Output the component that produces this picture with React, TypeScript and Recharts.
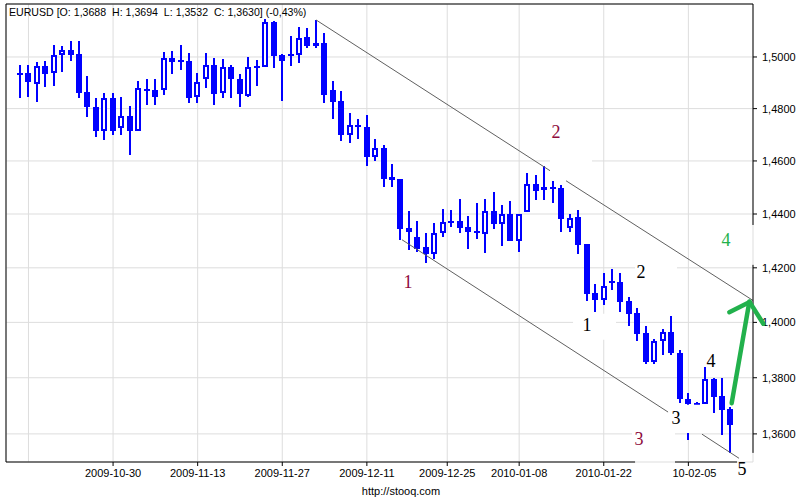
import React from 'react';
import {
  Bar,
  CartesianGrid,
  ComposedChart,
  ReferenceArea,
  ReferenceDot,
  ReferenceLine,
  XAxis,
  YAxis,
} from 'recharts';

// EURUSD daily candles, 2009-10-15 .. 2010-02-12 (one entry per trading day)
const opens = [
  1.4936, 1.4938, 1.4896, 1.4965, 1.4938, 1.5008, 1.5027, 1.5012, 1.4865, 1.4807,
  1.4715, 1.4841, 1.4726, 1.4772, 1.4715, 1.4876, 1.4872, 1.4872, 1.4996, 1.4988,
  1.4985, 1.4845, 1.4915, 1.4969, 1.4861, 1.4961, 1.4915, 1.4849, 1.4965, 1.4961,
  1.5137, 1.5008, 1.5012, 1.5008, 1.5078, 1.5047, 1.5055, 1.4872, 1.483, 1.4699,
  1.4738, 1.473, 1.4615, 1.465, 1.454, 1.4532, 1.4348, 1.4315, 1.4278, 1.4252,
  1.433, 1.4374, 1.4374, 1.4352, 1.4337, 1.4326, 1.4412, 1.4363, 1.44, 1.43,
  1.4408, 1.4513, 1.4494, 1.4502, 1.4498, 1.4348, 1.4389, 1.4289, 1.4108, 1.4083,
  1.4152, 1.4148, 1.4079, 1.4035, 1.3962, 1.3857, 1.3933, 1.3966, 1.389, 1.3725,
  1.371, 1.3707, 1.3796, 1.3735, 1.3688,
];
const highs = [
  1.4969, 1.4969, 1.4981, 1.4985, 1.5047, 1.5043, 1.5063, 1.5063, 1.4926, 1.4841,
  1.4861, 1.4861, 1.4845, 1.481, 1.4907, 1.4915, 1.4915, 1.502, 1.5024, 1.5047,
  1.5016, 1.4938, 1.5016, 1.4996, 1.4992, 1.4969, 1.4934, 1.5, 1.4988, 1.5149,
  1.5141, 1.5012, 1.5082, 1.5118, 1.5114, 1.5145, 1.5094, 1.4907, 1.4868, 1.4783,
  1.476, 1.4776, 1.4684, 1.4661, 1.4589, 1.4532, 1.4412, 1.4374, 1.433, 1.4367,
  1.4419, 1.4415, 1.4457, 1.4393, 1.4442, 1.4457, 1.4483, 1.4434, 1.4449, 1.44,
  1.4555, 1.4547, 1.4581, 1.4525, 1.451, 1.44, 1.4415, 1.4289, 1.4141, 1.4181,
  1.4196, 1.4181, 1.4094, 1.4053, 1.3987, 1.394, 1.3977, 1.4024, 1.3901, 1.3746,
  1.3714, 1.3839, 1.38, 1.38, 1.3694,
];
const lows = [
  1.4841, 1.4845, 1.4826, 1.4884, 1.4888, 1.4942, 1.4985, 1.4841, 1.4768, 1.4692,
  1.468, 1.4699, 1.4699, 1.4623, 1.4715, 1.4814, 1.4814, 1.4853, 1.4934, 1.495,
  1.4822, 1.4822, 1.488, 1.4814, 1.4841, 1.4841, 1.4807, 1.4845, 1.4888, 1.4961,
  1.4957, 1.483, 1.4965, 1.4977, 1.5035, 1.5035, 1.4822, 1.476, 1.4676, 1.4669,
  1.4684, 1.4581, 1.46, 1.4502, 1.4502, 1.4304, 1.4266, 1.4259, 1.4218, 1.4233,
  1.4315, 1.4352, 1.433, 1.427, 1.4307, 1.4255, 1.4345, 1.4281, 1.43, 1.4259,
  1.4408, 1.4453, 1.4453, 1.4442, 1.4333, 1.4333, 1.4252, 1.4079, 1.4039, 1.4064,
  1.4119, 1.4039, 1.3987, 1.3933, 1.385, 1.385, 1.3883, 1.3883, 1.371, 1.3579,
  1.3707, 1.3707, 1.3675, 1.3596, 1.3532,
];
const closes = [
  1.4932, 1.4903, 1.4965, 1.4934, 1.5008, 1.5027, 1.5008, 1.4861, 1.4807, 1.4715,
  1.4841, 1.4715, 1.4772, 1.4715, 1.488, 1.4868, 1.4845, 1.4996, 1.4981, 1.4981,
  1.4841, 1.4903, 1.4969, 1.4857, 1.4961, 1.4915, 1.4857, 1.4961, 1.4959, 1.5137,
  1.5004, 1.4985, 1.5004, 1.5074, 1.5043, 1.5055, 1.4853, 1.4826, 1.4699, 1.4738,
  1.473, 1.4615, 1.465, 1.4532, 1.4528, 1.4345, 1.4333, 1.427, 1.4252, 1.433,
  1.4371, 1.4367, 1.4348, 1.4333, 1.433, 1.4412, 1.4363, 1.44, 1.43, 1.44,
  1.4513, 1.4487, 1.4502, 1.4494, 1.4382, 1.4385, 1.4285, 1.4105, 1.4083, 1.4134,
  1.4145, 1.4075, 1.4031, 1.3958, 1.3857, 1.3933, 1.3966, 1.389, 1.3725, 1.3707,
  1.3707, 1.3796, 1.3732, 1.3686, 1.363,
];

// x ticks sit on candle indexes (12-25 is a holiday, so it falls between two candles)
const xTickIndex = [1, 11, 21, 31, 41, 50.5, 59, 69, 79];
const xTickLabels = ['', '2009-10-30', '2009-11-13', '2009-11-27', '2009-12-11', '2009-12-25', '2010-01-08', '2010-01-22', '2010-02-05'];
// leading characters of a label that were painted over in the original
const xTickPainted = [0, 0, 0, 0, 0, 0, 0, 0, 2];
const yTicks = [1.36, 1.38, 1.4, 1.42, 1.44, 1.46, 1.48, 1.5];

const X_MIN = -1.655;
const X_MAX = 86.64;
const Y_MIN = 1.3501;
const Y_MAX = 1.5208;

// hand drawn channel, as [index, price] pairs (broken where labels were pasted)
const channelSegments = [
  [[35, 1.5145], [62.65, 1.4563]],
  [[64.54, 1.4525], [86.64, 1.408]],
  [[45.15, 1.4304], [76.83, 1.3673]],
  [[80.61, 1.3599], [84.99, 1.3514]],
];
const arrowSegments = [
  [[84.12, 1.3709], [86.21, 1.4076]],
  [[83.84, 1.4037], [86.25, 1.4074]],
  [[86.25, 1.4074], [87.86, 1.3995]],
];
const frameSegments = [
  [[X_MIN, Y_MIN], [X_MIN, Y_MAX]],
  [[X_MIN, Y_MAX], [X_MAX, Y_MAX]],
  [[X_MAX, Y_MAX], [X_MAX, 1.4359]],
  [[X_MAX, 1.4211], [X_MAX, 1.3533]],
  [[X_MIN, Y_MIN], [72.7, Y_MIN]],
  [[77.42, Y_MIN], [84.75, Y_MIN]],
];
// white patches behind the pasted wave labels
const patches = [
  [62.65, 67.61, 1.4528, 1.4634],
  [72.7, 77.66, 1.4134, 1.4237],
  [65.37, 70.45, 1.3937, 1.4031],
  [76.6, 80.73, 1.3603, 1.3703],
  [72.34, 77.42, 1.3505, 1.3636],
];

const RED = '#8e0b3c';
const GREEN = '#22b14c';
const waveLabels = [
  { i: 45.86, p: 1.4148, text: '1', color: RED },
  { i: 63.36, p: 1.4711, text: '2', color: RED },
  { i: 73.17, p: 1.3582, text: '3', color: RED },
  { i: 67.02, p: 1.3991, text: '1', color: '#000' },
  { i: 73.4, p: 1.4185, text: '2', color: '#000' },
  { i: 77.54, p: 1.3657, text: '3', color: '#000' },
  { i: 81.68, p: 1.3861, text: '4', color: '#000' },
  { i: 85.34, p: 1.3477, text: '5', color: '#000' },
  { i: 83.45, p: 1.4304, text: '4', color: GREEN },
];

const candles = opens.map((open, i) => ({
  i,
  open,
  high: highs[i],
  low: lows[i],
  close: closes[i],
}));

const BLUE = '#0000ff';
const FONT = '"Liberation Sans", Arial, sans-serif';

function renderCandle(props: any) {
  const { x, y, width, height, payload } = props;
  const { open, close, high, low } = payload;
  const lh = Math.log(high);
  const span = lh - Math.log(low);
  // y axis is logarithmic, so place open/close inside the high-low bar the same way
  const py = (v: number) => (span > 0 ? y + ((lh - Math.log(v)) / span) * height : y);
  const cx = Math.round(x + width / 2);
  const top = Math.round(py(Math.max(open, close)));
  let bottom = Math.round(py(Math.min(open, close)));
  const up = close > open;
  if (bottom - top < (up ? 3 : 2)) bottom = top + (up ? 3 : 2);
  return (
    <g>
      <line x1={cx} x2={cx} y1={Math.round(y)} y2={Math.round(y + height)} stroke={BLUE} strokeWidth={2} />
      {up ? (
        <rect x={cx - 2} y={top + 1} width={4} height={bottom - top - 2} fill="#fff" stroke={BLUE} strokeWidth={2} />
      ) : (
        <rect x={cx - 3} y={top} width={6} height={bottom - top} fill={BLUE} />
      )}
    </g>
  );
}

function DateTick(props: any) {
  const { x, y, payload } = props;
  const k = xTickIndex.indexOf(payload.value);
  const label = xTickLabels[k] || '';
  if (!label) return <g />;
  const cut = xTickPainted[k] || 0;
  return (
    <g>
      <line x1={x} x2={x} y1={y - 7} y2={y - 3} stroke="#000" />
      <text x={x} y={y} dy="0.71em" textAnchor="middle" fontSize={11} fontFamily={FONT} fill="#000">
        {cut > 0 && <tspan fillOpacity={0}>{label.slice(0, cut)}</tspan>}
        {label.slice(cut)}
      </text>
    </g>
  );
}

export default function App() {
  return (
    <div style={{ position: 'absolute', left: 0, top: 0, width: 800, height: 500, background: '#fff' }}>
      <ComposedChart width={800} height={500} data={candles} margin={{ top: 4, right: 0, bottom: 0, left: 6 }}>
        <CartesianGrid stroke="#dddddd" />
        <XAxis
          type="number"
          dataKey="i"
          domain={[X_MIN, X_MAX]}
          allowDataOverflow
          ticks={xTickIndex}
          interval={0}
          tick={(p: any) => <DateTick {...p} />}
          tickLine={false}
          axisLine={false}
          tickSize={4}
          tickMargin={3}
          height={38}
        />
        <YAxis
          orientation="right"
          scale="log"
          domain={[Y_MIN, Y_MAX]}
          allowDataOverflow
          ticks={yTicks}
          interval={0}
          width={47}
          axisLine={false}
          tickLine={{ stroke: '#000' }}
          tickSize={4}
          tickMargin={5}
          tick={{ fill: '#000', fontSize: 11, fontFamily: FONT }}
          tickFormatter={(v: number) => v.toFixed(4).replace('.', ',')}
        />
        <Bar dataKey={(d: any) => [d.low, d.high]} barSize={6} shape={renderCandle} isAnimationActive={false} />
        {patches.map(([x1, x2, y1, y2], k) => (
          <ReferenceArea
            key={'p' + k}
            x1={x1}
            x2={x2}
            y1={y1}
            y2={y2}
            fill="#fff"
            fillOpacity={1}
            stroke="none"
            ifOverflow="visible"
            {...({ zIndex: 450 } as any)}
          />
        ))}
        {channelSegments.map((s, k) => (
          <ReferenceLine
            key={'c' + k}
            segment={[{ x: s[0][0], y: s[0][1] }, { x: s[1][0], y: s[1][1] }]}
            stroke="#606060"
            strokeWidth={1}
            ifOverflow="visible"
          />
        ))}
        {frameSegments.map((s, k) => (
          <ReferenceLine
            key={'f' + k}
            segment={[{ x: s[0][0], y: s[0][1] }, { x: s[1][0], y: s[1][1] }]}
            stroke="#000"
            strokeWidth={1}
            ifOverflow="visible"
          />
        ))}
        {arrowSegments.map((s, k) => (
          <ReferenceLine
            key={'a' + k}
            segment={[{ x: s[0][0], y: s[0][1] }, { x: s[1][0], y: s[1][1] }]}
            stroke={GREEN}
            strokeWidth={4.5}
            strokeLinecap="round"
            ifOverflow="visible"
            {...({ zIndex: 2500 } as any)}
          />
        ))}
        {waveLabels.map((w, k) => (
          <ReferenceDot
            key={'w' + k}
            x={w.i}
            y={w.p}
            r={1}
            fill="none"
            stroke="none"
            ifOverflow="visible"
            label={{ value: w.text, position: 'center', fill: w.color, fontSize: 18, fontFamily: '"Liberation Serif", serif' }}
            {...({ zIndex: 2600 } as any)}
          />
        ))}
      </ComposedChart>
      <div style={{ position: 'absolute', left: 9, top: 6, fontSize: 10.6, fontFamily: FONT, whiteSpace: 'pre', color: '#000' }}>
        EURUSD [O: 1,3688  H: 1,3694  L: 1,3532  C: 1,3630] (-0,43%)
      </div>
      <div style={{ position: 'absolute', left: 0, width: 802, top: 485, textAlign: 'center', fontSize: 11, fontFamily: FONT, color: '#000' }}>
        http://stooq.com
      </div>
    </div>
  );
}
